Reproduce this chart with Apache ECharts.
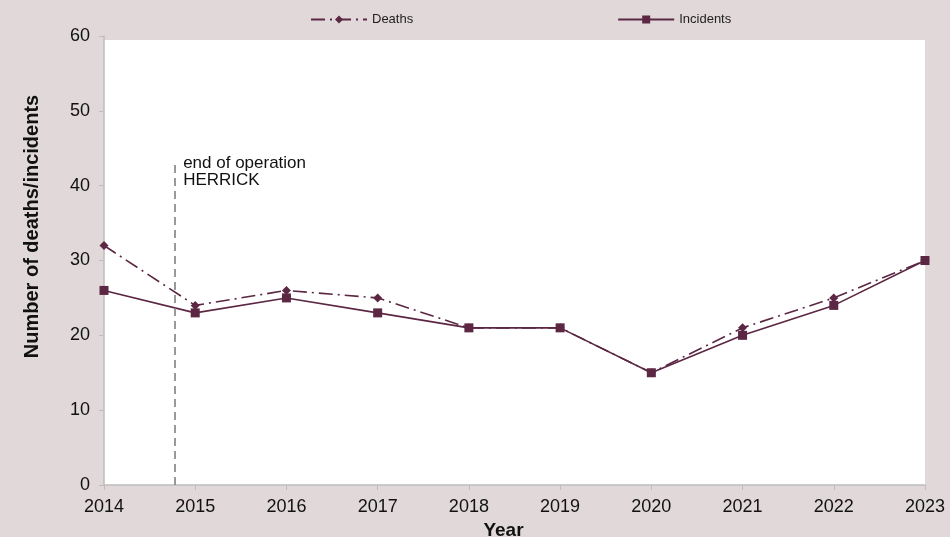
<!DOCTYPE html>
<html>
<head>
<meta charset="utf-8">
<script src="https://cdn.jsdelivr.net/npm/echarts@6/dist/echarts.min.js"></script>
<style>
  html, body { margin: 0; padding: 0; background: #e0d8d9; }
  #chart { width: 950px; height: 537px; }
</style>
</head>
<body>
<div id="chart"></div>
<script>
// Yearly counts
const years = [2014, 2015, 2016, 2017, 2018, 2019, 2020, 2021, 2022, 2023];
const deaths = [32, 24, 26, 25, 21, 21, 15, 21, 25, 30];
const incidents = [26, 23, 25, 23, 21, 21, 15, 20, 24, 30];
const yTicks = [0, 10, 20, 30, 40, 50, 60];
// Position of the "end of operation HERRICK" marker on the year scale
const herrickEnd = 2014.78;
const herrickTop = 43;

const maroon = '#5b2743';
const font = '"Liberation Sans", Arial, sans-serif';

const chart = echarts.init(document.getElementById('chart'));

chart.setOption({
  backgroundColor: '#e0d8d9',
  animation: false,
  textStyle: { fontFamily: font },
  grid: { left: 104, right: 25, top: 36, bottom: 52, containLabel: false, outerBoundsMode: 'none' },
  graphic: [{
    type: 'rect',
    z: -1,
    shape: { x: 104, y: 40, width: 821, height: 445 },
    style: { fill: '#ffffff' },
    silent: true
  }],
  legend: {
    top: 8,
    left: 305,
    itemGap: 204,
    itemWidth: 56,
    itemHeight: 10,
    textStyle: { fontSize: 13, color: '#222', fontFamily: font },
    data: [
      { name: 'Deaths' },
      { name: 'Incidents' }
    ]
  },
  xAxis: {
    type: 'value',
    min: years[0],
    max: years[years.length - 1],
    interval: 1,
    name: 'Year',
    nameLocation: 'middle',
    nameGap: 34,
    nameTextStyle: { fontSize: 19, fontWeight: 'bold', color: '#111', padding: [0, 22, 0, 0] },
    axisLine: { lineStyle: { color: '#bdbdbd', width: 1.5 } },
    axisTick: { show: true, length: 5, lineStyle: { color: '#bdbdbd' } },
    axisLabel: { fontSize: 18, color: '#111', margin: 13, formatter: v => String(v) },
    splitLine: { show: false }
  },
  yAxis: {
    type: 'value',
    min: yTicks[0],
    max: yTicks[yTicks.length - 1],
    interval: 10,
    name: 'Number of deaths/incidents',
    nameLocation: 'middle',
    nameGap: 62,
    nameTextStyle: { fontSize: 20, fontWeight: 'bold', color: '#111', padding: [0, 0, 0, 68] },
    axisLine: { show: true, lineStyle: { color: '#bdbdbd', width: 1.5 } },
    axisTick: { show: true, length: 5, lineStyle: { color: '#bdbdbd' } },
    axisLabel: { fontSize: 18, color: '#111', margin: 14 },
    splitLine: { show: false }
  },
  series: [
    {
      name: 'Deaths',
      type: 'line',
      data: years.map((y, i) => [y, deaths[i]]),
      symbol: 'diamond',
      symbolSize: 9,
      clip: false,
      itemStyle: { color: maroon },
      lineStyle: { color: maroon, width: 1.6, type: [14, 5, 2, 5] },
      markLine: {
        silent: true,
        symbol: 'none',
        label: {
          show: true,
          position: 'end',
          formatter: 'end of operation\nHERRICK',
          color: '#111',
          fontSize: 17,
          lineHeight: 17,
          align: 'left',
          offset: [8, 31]
        },
        lineStyle: { color: '#808080', width: 1.6, type: [8, 5] },
        data: [[
          { coord: [herrickEnd, 0] },
          { coord: [herrickEnd, herrickTop] }
        ]]
      }
    },
    {
      name: 'Incidents',
      type: 'line',
      data: years.map((y, i) => [y, incidents[i]]),
      symbol: 'rect',
      symbolSize: 9,
      clip: false,
      itemStyle: { color: maroon },
      lineStyle: { color: maroon, width: 1.6, type: 'solid' }
    }
  ]
});
</script>
</body>
</html>
